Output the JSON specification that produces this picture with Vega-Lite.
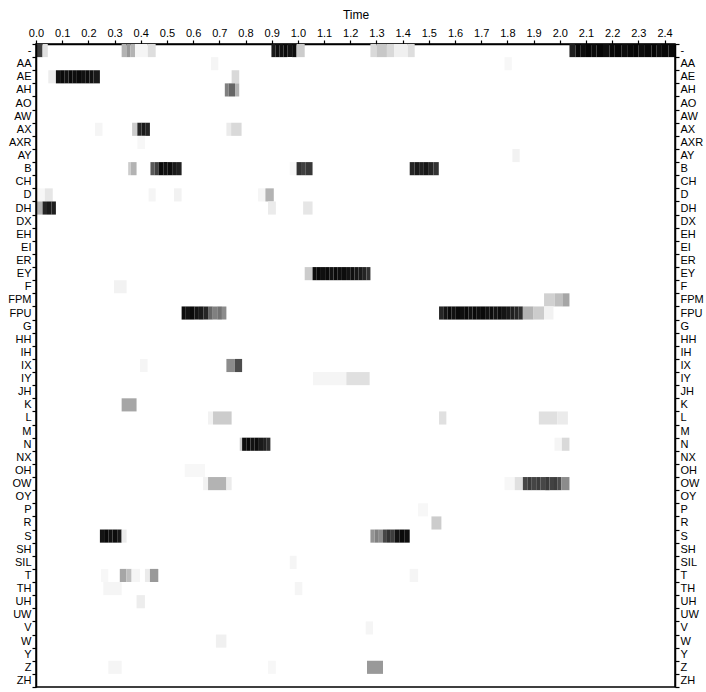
{
  "$schema": "https://vega.github.io/schema/vega-lite/v6.json",
  "autosize": "none",
  "width": 639,
  "height": 643,
  "padding": {"left": 36, "top": 44, "right": 31, "bottom": 5},
  "background": "white",
  "config": {
    "view": {"stroke": "black", "strokeWidth": 1.5},
    "axis": {
      "labelFont": "Liberation Sans",
      "labelFontSize": 11,
      "labelColor": "black",
      "titleFont": "Liberation Sans",
      "titleFontSize": 12,
      "titleFontWeight": "normal",
      "titleColor": "black",
      "domainColor": "black",
      "domainWidth": 1.5,
      "tickColor": "black",
      "tickWidth": 1.2,
      "tickSize": 4,
      "grid": false
    }
  },
  "data": {
    "values": [
      {"p": "-", "a": 0.0, "b": 0.025, "v": 0.75},
      {"p": "-", "a": 0.025, "b": 0.045, "v": 0.12},
      {"p": "-", "a": 0.327, "b": 0.345, "v": 0.3},
      {"p": "-", "a": 0.345, "b": 0.36, "v": 0.4},
      {"p": "-", "a": 0.36, "b": 0.378, "v": 0.3},
      {"p": "-", "a": 0.378, "b": 0.427, "v": 0.04},
      {"p": "-", "a": 0.427, "b": 0.457, "v": 0.13},
      {"p": "-", "a": 0.899, "b": 0.915, "v": 0.9},
      {"p": "-", "a": 0.915, "b": 0.93, "v": 0.95},
      {"p": "-", "a": 0.93, "b": 0.945, "v": 0.93},
      {"p": "-", "a": 0.945, "b": 0.96, "v": 0.96},
      {"p": "-", "a": 0.96, "b": 0.978, "v": 0.92},
      {"p": "-", "a": 0.978, "b": 0.995, "v": 0.95},
      {"p": "-", "a": 0.995, "b": 1.026, "v": 0.2},
      {"p": "-", "a": 1.277, "b": 1.3, "v": 0.15},
      {"p": "-", "a": 1.3, "b": 1.34, "v": 0.22},
      {"p": "-", "a": 1.34, "b": 1.367, "v": 0.15},
      {"p": "-", "a": 1.367, "b": 1.42, "v": 0.06},
      {"p": "-", "a": 1.42, "b": 1.446, "v": 0.13},
      {"p": "-", "a": 2.037, "b": 2.06, "v": 0.88},
      {"p": "-", "a": 2.06, "b": 2.08, "v": 0.97},
      {"p": "-", "a": 2.08, "b": 2.1, "v": 0.95},
      {"p": "-", "a": 2.1, "b": 2.12, "v": 0.98},
      {"p": "-", "a": 2.12, "b": 2.14, "v": 0.96},
      {"p": "-", "a": 2.14, "b": 2.165, "v": 0.98},
      {"p": "-", "a": 2.165, "b": 2.19, "v": 0.95},
      {"p": "-", "a": 2.19, "b": 2.21, "v": 0.97},
      {"p": "-", "a": 2.21, "b": 2.235, "v": 0.98},
      {"p": "-", "a": 2.235, "b": 2.26, "v": 0.95},
      {"p": "-", "a": 2.26, "b": 2.28, "v": 0.97},
      {"p": "-", "a": 2.28, "b": 2.3, "v": 0.98},
      {"p": "-", "a": 2.3, "b": 2.325, "v": 0.95},
      {"p": "-", "a": 2.325, "b": 2.35, "v": 0.97},
      {"p": "-", "a": 2.35, "b": 2.37, "v": 0.98},
      {"p": "-", "a": 2.37, "b": 2.39, "v": 0.95},
      {"p": "-", "a": 2.39, "b": 2.415, "v": 0.97},
      {"p": "-", "a": 2.415, "b": 2.44, "v": 0.96},
      {"p": "AA", "a": 0.668, "b": 0.696, "v": 0.04},
      {"p": "AA", "a": 1.789, "b": 1.817, "v": 0.03},
      {"p": "AE", "a": 0.047, "b": 0.076, "v": 0.07},
      {"p": "AE", "a": 0.076, "b": 0.092, "v": 0.93},
      {"p": "AE", "a": 0.092, "b": 0.108, "v": 0.96},
      {"p": "AE", "a": 0.108, "b": 0.124, "v": 0.93},
      {"p": "AE", "a": 0.124, "b": 0.14, "v": 0.96},
      {"p": "AE", "a": 0.14, "b": 0.156, "v": 0.94},
      {"p": "AE", "a": 0.156, "b": 0.172, "v": 0.96},
      {"p": "AE", "a": 0.172, "b": 0.188, "v": 0.93},
      {"p": "AE", "a": 0.188, "b": 0.204, "v": 0.95},
      {"p": "AE", "a": 0.204, "b": 0.22, "v": 0.93},
      {"p": "AE", "a": 0.22, "b": 0.244, "v": 0.9},
      {"p": "AE", "a": 0.747, "b": 0.776, "v": 0.15},
      {"p": "AH", "a": 0.721, "b": 0.735, "v": 0.5},
      {"p": "AH", "a": 0.735, "b": 0.76, "v": 0.6},
      {"p": "AH", "a": 0.76, "b": 0.776, "v": 0.3},
      {"p": "AX", "a": 0.225, "b": 0.254, "v": 0.04},
      {"p": "AX", "a": 0.367, "b": 0.387, "v": 0.2},
      {"p": "AX", "a": 0.387, "b": 0.403, "v": 0.85},
      {"p": "AX", "a": 0.403, "b": 0.419, "v": 0.9},
      {"p": "AX", "a": 0.419, "b": 0.435, "v": 0.86},
      {"p": "AX", "a": 0.727, "b": 0.745, "v": 0.08},
      {"p": "AX", "a": 0.745, "b": 0.785, "v": 0.15},
      {"p": "AXR", "a": 0.387, "b": 0.416, "v": 0.03},
      {"p": "AY", "a": 1.819, "b": 1.847, "v": 0.05},
      {"p": "B", "a": 0.352, "b": 0.362, "v": 0.2},
      {"p": "B", "a": 0.362, "b": 0.384, "v": 0.3},
      {"p": "B", "a": 0.437, "b": 0.453, "v": 0.65},
      {"p": "B", "a": 0.453, "b": 0.469, "v": 0.75},
      {"p": "B", "a": 0.469, "b": 0.486, "v": 0.96},
      {"p": "B", "a": 0.486, "b": 0.503, "v": 0.93},
      {"p": "B", "a": 0.503, "b": 0.52, "v": 0.95},
      {"p": "B", "a": 0.52, "b": 0.538, "v": 0.9},
      {"p": "B", "a": 0.538, "b": 0.556, "v": 0.87},
      {"p": "B", "a": 0.969, "b": 0.995, "v": 0.03},
      {"p": "B", "a": 0.995, "b": 1.012, "v": 0.8},
      {"p": "B", "a": 1.012, "b": 1.03, "v": 0.75},
      {"p": "B", "a": 1.03, "b": 1.056, "v": 0.78},
      {"p": "B", "a": 1.427, "b": 1.445, "v": 0.85},
      {"p": "B", "a": 1.445, "b": 1.463, "v": 0.9},
      {"p": "B", "a": 1.463, "b": 1.481, "v": 0.87},
      {"p": "B", "a": 1.481, "b": 1.5, "v": 0.91},
      {"p": "B", "a": 1.5, "b": 1.518, "v": 0.85},
      {"p": "B", "a": 1.518, "b": 1.538, "v": 0.8},
      {"p": "D", "a": 0.0, "b": 0.034, "v": 0.03},
      {"p": "D", "a": 0.034, "b": 0.064, "v": 0.1},
      {"p": "D", "a": 0.43, "b": 0.457, "v": 0.04},
      {"p": "D", "a": 0.527, "b": 0.556, "v": 0.05},
      {"p": "D", "a": 0.848, "b": 0.876, "v": 0.04},
      {"p": "D", "a": 0.876, "b": 0.908, "v": 0.3},
      {"p": "DH", "a": 0.0, "b": 0.025, "v": 0.3},
      {"p": "DH", "a": 0.025, "b": 0.042, "v": 0.85},
      {"p": "DH", "a": 0.042, "b": 0.059, "v": 0.9},
      {"p": "DH", "a": 0.059, "b": 0.076, "v": 0.88},
      {"p": "DH", "a": 0.886, "b": 0.916, "v": 0.08},
      {"p": "DH", "a": 1.02, "b": 1.056, "v": 0.1},
      {"p": "EY", "a": 1.026, "b": 1.056, "v": 0.2},
      {"p": "EY", "a": 1.056, "b": 1.072, "v": 0.95},
      {"p": "EY", "a": 1.072, "b": 1.088, "v": 0.97},
      {"p": "EY", "a": 1.088, "b": 1.104, "v": 0.94},
      {"p": "EY", "a": 1.104, "b": 1.12, "v": 0.96},
      {"p": "EY", "a": 1.12, "b": 1.136, "v": 0.93},
      {"p": "EY", "a": 1.136, "b": 1.152, "v": 0.96},
      {"p": "EY", "a": 1.152, "b": 1.168, "v": 0.94},
      {"p": "EY", "a": 1.168, "b": 1.184, "v": 0.95},
      {"p": "EY", "a": 1.184, "b": 1.2, "v": 0.92},
      {"p": "EY", "a": 1.2, "b": 1.216, "v": 0.94},
      {"p": "EY", "a": 1.216, "b": 1.232, "v": 0.91},
      {"p": "EY", "a": 1.232, "b": 1.248, "v": 0.9},
      {"p": "EY", "a": 1.248, "b": 1.262, "v": 0.86},
      {"p": "EY", "a": 1.262, "b": 1.277, "v": 0.8},
      {"p": "F", "a": 0.298, "b": 0.346, "v": 0.05},
      {"p": "FPM", "a": 1.94, "b": 1.98, "v": 0.18},
      {"p": "FPM", "a": 1.98, "b": 2.01, "v": 0.25},
      {"p": "FPM", "a": 2.01, "b": 2.037, "v": 0.35},
      {"p": "FPU", "a": 0.556, "b": 0.572, "v": 0.95},
      {"p": "FPU", "a": 0.572, "b": 0.588, "v": 0.93},
      {"p": "FPU", "a": 0.588, "b": 0.605, "v": 0.96},
      {"p": "FPU", "a": 0.605, "b": 0.622, "v": 0.92},
      {"p": "FPU", "a": 0.622, "b": 0.64, "v": 0.9},
      {"p": "FPU", "a": 0.64, "b": 0.657, "v": 0.85},
      {"p": "FPU", "a": 0.657, "b": 0.675, "v": 0.6},
      {"p": "FPU", "a": 0.675, "b": 0.692, "v": 0.5},
      {"p": "FPU", "a": 0.692, "b": 0.71, "v": 0.55},
      {"p": "FPU", "a": 0.71, "b": 0.727, "v": 0.45},
      {"p": "FPU", "a": 1.539, "b": 1.555, "v": 0.85},
      {"p": "FPU", "a": 1.555, "b": 1.571, "v": 0.92},
      {"p": "FPU", "a": 1.571, "b": 1.587, "v": 0.96},
      {"p": "FPU", "a": 1.587, "b": 1.603, "v": 0.93},
      {"p": "FPU", "a": 1.603, "b": 1.619, "v": 0.96},
      {"p": "FPU", "a": 1.619, "b": 1.635, "v": 0.94},
      {"p": "FPU", "a": 1.635, "b": 1.651, "v": 0.96},
      {"p": "FPU", "a": 1.651, "b": 1.667, "v": 0.93},
      {"p": "FPU", "a": 1.667, "b": 1.683, "v": 0.96},
      {"p": "FPU", "a": 1.683, "b": 1.699, "v": 0.94},
      {"p": "FPU", "a": 1.699, "b": 1.715, "v": 0.96},
      {"p": "FPU", "a": 1.715, "b": 1.731, "v": 0.93},
      {"p": "FPU", "a": 1.731, "b": 1.747, "v": 0.95},
      {"p": "FPU", "a": 1.747, "b": 1.763, "v": 0.92},
      {"p": "FPU", "a": 1.763, "b": 1.779, "v": 0.95},
      {"p": "FPU", "a": 1.779, "b": 1.795, "v": 0.92},
      {"p": "FPU", "a": 1.795, "b": 1.811, "v": 0.9},
      {"p": "FPU", "a": 1.811, "b": 1.827, "v": 0.88},
      {"p": "FPU", "a": 1.827, "b": 1.843, "v": 0.85},
      {"p": "FPU", "a": 1.843, "b": 1.859, "v": 0.82},
      {"p": "FPU", "a": 1.859, "b": 1.9, "v": 0.3},
      {"p": "FPU", "a": 1.9, "b": 1.94, "v": 0.2},
      {"p": "FPU", "a": 1.94, "b": 1.976, "v": 0.05},
      {"p": "IX", "a": 0.397, "b": 0.426, "v": 0.04},
      {"p": "IX", "a": 0.727, "b": 0.759, "v": 0.45},
      {"p": "IX", "a": 0.759, "b": 0.787, "v": 0.7},
      {"p": "IY", "a": 1.058, "b": 1.185, "v": 0.04},
      {"p": "IY", "a": 1.185, "b": 1.274, "v": 0.12},
      {"p": "K", "a": 0.327, "b": 0.384, "v": 0.35},
      {"p": "L", "a": 0.657, "b": 0.676, "v": 0.05},
      {"p": "L", "a": 0.676, "b": 0.747, "v": 0.2},
      {"p": "L", "a": 1.539, "b": 1.567, "v": 0.12},
      {"p": "L", "a": 1.92, "b": 1.99, "v": 0.12},
      {"p": "L", "a": 1.99, "b": 2.031, "v": 0.08},
      {"p": "N", "a": 0.778, "b": 0.787, "v": 0.2},
      {"p": "N", "a": 0.787, "b": 0.803, "v": 0.95},
      {"p": "N", "a": 0.803, "b": 0.819, "v": 0.97},
      {"p": "N", "a": 0.819, "b": 0.835, "v": 0.93},
      {"p": "N", "a": 0.835, "b": 0.851, "v": 0.95},
      {"p": "N", "a": 0.851, "b": 0.867, "v": 0.9},
      {"p": "N", "a": 0.867, "b": 0.881, "v": 0.87},
      {"p": "N", "a": 0.881, "b": 0.895, "v": 0.82},
      {"p": "N", "a": 1.98, "b": 2.008, "v": 0.04},
      {"p": "N", "a": 2.008, "b": 2.037, "v": 0.15},
      {"p": "OH", "a": 0.568, "b": 0.645, "v": 0.03},
      {"p": "OW", "a": 0.638, "b": 0.657, "v": 0.05},
      {"p": "OW", "a": 0.657, "b": 0.727, "v": 0.3},
      {"p": "OW", "a": 0.727, "b": 0.747, "v": 0.08},
      {"p": "OW", "a": 1.789, "b": 1.828, "v": 0.03},
      {"p": "OW", "a": 1.828, "b": 1.859, "v": 0.12},
      {"p": "OW", "a": 1.859, "b": 1.876, "v": 0.72},
      {"p": "OW", "a": 1.876, "b": 1.893, "v": 0.77},
      {"p": "OW", "a": 1.893, "b": 1.91, "v": 0.73},
      {"p": "OW", "a": 1.91, "b": 1.927, "v": 0.76},
      {"p": "OW", "a": 1.927, "b": 1.944, "v": 0.72},
      {"p": "OW", "a": 1.944, "b": 1.961, "v": 0.77},
      {"p": "OW", "a": 1.961, "b": 1.978, "v": 0.74},
      {"p": "OW", "a": 1.978, "b": 1.992, "v": 0.76},
      {"p": "OW", "a": 1.992, "b": 2.006, "v": 0.7},
      {"p": "OW", "a": 2.006, "b": 2.037, "v": 0.45},
      {"p": "P", "a": 1.459, "b": 1.497, "v": 0.03},
      {"p": "R", "a": 1.51, "b": 1.548, "v": 0.2},
      {"p": "S", "a": 0.244, "b": 0.26, "v": 0.92},
      {"p": "S", "a": 0.26, "b": 0.276, "v": 0.96},
      {"p": "S", "a": 0.276, "b": 0.292, "v": 0.93},
      {"p": "S", "a": 0.292, "b": 0.31, "v": 0.95},
      {"p": "S", "a": 0.31, "b": 0.327, "v": 0.9},
      {"p": "S", "a": 0.327, "b": 0.346, "v": 0.08},
      {"p": "S", "a": 1.277, "b": 1.293, "v": 0.42},
      {"p": "S", "a": 1.293, "b": 1.309, "v": 0.5},
      {"p": "S", "a": 1.309, "b": 1.325, "v": 0.45},
      {"p": "S", "a": 1.325, "b": 1.34, "v": 0.72},
      {"p": "S", "a": 1.34, "b": 1.355, "v": 0.8},
      {"p": "S", "a": 1.355, "b": 1.37, "v": 0.76},
      {"p": "S", "a": 1.37, "b": 1.389, "v": 0.93},
      {"p": "S", "a": 1.389, "b": 1.408, "v": 0.96},
      {"p": "S", "a": 1.408, "b": 1.427, "v": 0.94},
      {"p": "SIL", "a": 0.969, "b": 0.995, "v": 0.04},
      {"p": "T", "a": 0.248, "b": 0.276, "v": 0.03},
      {"p": "T", "a": 0.32, "b": 0.345, "v": 0.35},
      {"p": "T", "a": 0.345, "b": 0.365, "v": 0.25},
      {"p": "T", "a": 0.365, "b": 0.397, "v": 0.04},
      {"p": "T", "a": 0.416, "b": 0.435, "v": 0.08},
      {"p": "T", "a": 0.435, "b": 0.467, "v": 0.4},
      {"p": "T", "a": 1.427, "b": 1.459, "v": 0.04},
      {"p": "TH", "a": 0.257, "b": 0.327, "v": 0.04},
      {"p": "TH", "a": 0.988, "b": 1.017, "v": 0.04},
      {"p": "UH", "a": 0.384, "b": 0.416, "v": 0.07},
      {"p": "V", "a": 1.259, "b": 1.287, "v": 0.04},
      {"p": "W", "a": 0.687, "b": 0.727, "v": 0.06},
      {"p": "Z", "a": 0.276, "b": 0.327, "v": 0.04},
      {"p": "Z", "a": 0.886, "b": 0.916, "v": 0.03},
      {"p": "Z", "a": 1.264, "b": 1.325, "v": 0.4}
    ]
  },
  "encoding": {
    "x": {
      "field": "a",
      "type": "quantitative",
      "scale": {"domain": [0, 2.44], "nice": false, "zero": false},
      "axis": {
        "orient": "top",
        "title": "Time",
        "values": [0, 0.1, 0.2, 0.3, 0.4, 0.5, 0.6, 0.7, 0.8, 0.9, 1.0, 1.1, 1.2, 1.3, 1.4, 1.5, 1.6, 1.7, 1.8, 1.9, 2.0, 2.1, 2.2, 2.3, 2.4],
        "format": ".1f",
        "labelPadding": 2,
        "titlePadding": 6,
        "labelFlush": false
      }
    },
    "x2": {"field": "b"},
    "y": {
      "field": "p",
      "type": "nominal",
      "scale": {
        "domain": ["-", "AA", "AE", "AH", "AO", "AW", "AX", "AXR", "AY", "B", "CH", "D", "DH", "DX", "EH", "EI", "ER", "EY", "F", "FPM", "FPU", "G", "HH", "IH", "IX", "IY", "JH", "K", "L", "M", "N", "NX", "OH", "OW", "OY", "P", "R", "S", "SH", "SIL", "T", "TH", "UH", "UW", "V", "W", "Y", "Z", "ZH"],
        "paddingInner": 0,
        "paddingOuter": 0
      }
    },
    "color": {
      "field": "v",
      "type": "quantitative",
      "scale": {"domain": [0, 1], "range": ["white", "black"], "interpolate": "rgb"},
      "legend": null
    }
  },
  "layer": [
    {
      "mark": {"type": "rect"},
      "encoding": {
        "y": {
          "field": "p",
          "type": "nominal",
          "axis": {"orient": "left", "title": null, "tickBand": "extent", "labelPadding": 1}
        }
      }
    },
    {
      "mark": {"type": "rect", "opacity": 0},
      "encoding": {
        "y": {
          "field": "p",
          "type": "nominal",
          "axis": {"orient": "right", "title": null, "tickBand": "extent", "labelPadding": 1}
        }
      }
    }
  ],
  "resolve": {"axis": {"y": "independent"}}
}
